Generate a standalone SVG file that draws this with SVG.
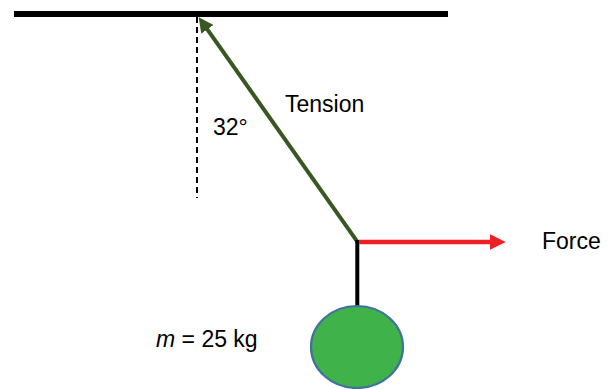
<svg xmlns="http://www.w3.org/2000/svg" width="610" height="389" viewBox="0 0 610 389">
<style>
text{font-family:"Liberation Sans",Arial,sans-serif;font-size:23px;fill:#000}
.bar{stroke:#000;stroke-width:6}
.dash{stroke:#000;stroke-width:2;stroke-dasharray:6,4}
.tension{stroke:#385723;stroke-width:4;fill:none}
.force{stroke:#EE2024;stroke-width:4.3;fill:none}
.rod{stroke:#000;stroke-width:4}
</style>
<defs>
<marker id="ahG" markerUnits="userSpaceOnUse" markerWidth="15" markerHeight="16" refX="1" refY="7.5" orient="auto" viewBox="0 0 15 15">
<path d="M0,0 L15,7.5 L0,15 Z" fill="#385723"/>
</marker>
</defs>
<rect width="610" height="389" fill="#fff"/>
<g id="ceiling">
<line class="bar" x1="14" y1="14" x2="448" y2="14"/>
</g>
<g id="vertical-ref">
<line class="dash" x1="197" y1="17" x2="197" y2="198"/>
</g>
<g id="connectors">
<line class="tension" x1="357.3" y1="241.7" x2="206.8" y2="28.6" marker-end="url(#ahG)"/>
<line class="rod" x1="357.3" y1="240" x2="357.3" y2="307"/>
<line class="force" x1="359" y1="242" x2="491" y2="242"/>
<polygon points="490,234.2 505.7,242 490,249.8" fill="#EE2024"/>
</g>
<g id="mass">
<ellipse cx="357" cy="347" rx="46" ry="41" fill="#3FB34A" stroke="#41719C" stroke-width="2.2"/>
</g>
<g id="labels">
<text x="285" y="111.5">Tension</text>
<text x="213" y="135">32°</text>
<text x="542" y="248.5">Force</text>
<text x="156" y="347"><tspan font-style="italic">m</tspan> = 25 kg</text>
</g>
</svg>
